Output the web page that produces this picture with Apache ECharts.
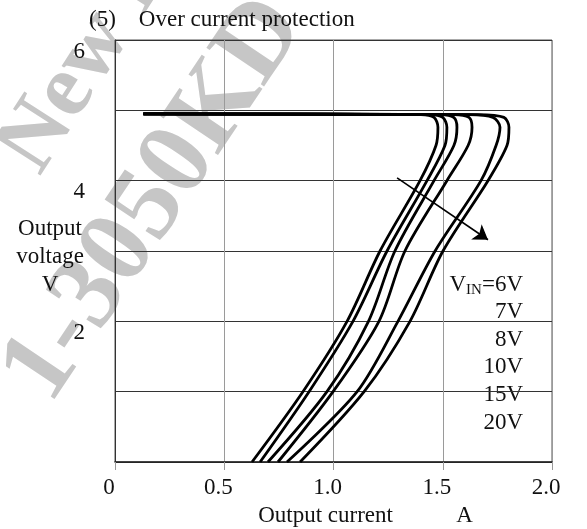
<!DOCTYPE html>
<html>
<head>
<meta charset="utf-8">
<script src="https://cdn.jsdelivr.net/npm/echarts@6/dist/echarts.min.js"></script>
<style>
  html, body { margin: 0; padding: 0; background: #fff; }
  #chart { width: 587px; height: 529px; }
</style>
</head>
<body>
<div id="chart"></div>
<script>
// output voltage levels (V) shared by every curve, top to bottom
const voltLevels = [4.95, 4.94, 4.90, 4.76, 4.5, 4, 3, 2, 1, 0];
// output current (A) of each curve at those voltage levels
const cur6V  = [0.13, 1.40, 1.46, 1.478, 1.469, 1.396, 1.213, 1.062, 0.860, 0.627];
const cur7V  = [0.13, 1.44, 1.50, 1.519, 1.510, 1.428, 1.245, 1.089, 0.888, 0.664];
const cur8V  = [0.13, 1.49, 1.55, 1.565, 1.551, 1.460, 1.281, 1.160, 0.970, 0.700];
const cur10V = [0.13, 1.55, 1.62, 1.634, 1.616, 1.519, 1.327, 1.208, 0.998, 0.746];
const cur15V = [0.13, 1.62, 1.73, 1.762, 1.744, 1.675, 1.465, 1.295, 1.108, 0.787];
const cur20V = [0.13, 1.66, 1.78, 1.803, 1.794, 1.707, 1.501, 1.350, 1.140, 0.847];
const vinLabels = ["6V", "7V", "8V", "10V", "15V", "20V"];
const yTickLabels = ["", "", "2", "", "4", "", "6"];
const arrowFrom = [1.291, 4.04];
const arrowTo = [1.707, 3.16];

const font = "Liberation Serif";
let myChart = echarts.init(document.getElementById("chart"));

let curves = [cur6V, cur7V, cur8V, cur10V, cur15V, cur20V];
let lineSeries = curves.map((cur, i) => {
  return {
    name: vinLabels[i],
    type: "line",
    smooth: 0.3,
    symbol: "none",
    z: 3,
    lineStyle: { color: "#000", width: 2.8 },
    data: cur.map((c, j) => [c, voltLevels[j]]),
  };
});

// legend text block on the right
let legendTexts = vinLabels.map((v, i) => {
  return {
    type: "text",
    right: 64,
    top: 273 + i * 27.6,
    style: {
      text: i === 0 ? "{a|V}{s|IN}{a|=" + v + "}" : v,
      font: "23px " + font,
      fill: "#111",
      rich: {
        a: { fontFamily: font, fontSize: 23, fill: "#111" },
        s: { fontFamily: font, fontSize: 15, fill: "#111", padding: [11, 0, 0, 0] },
      },
    },
  };
});

let option = {
  backgroundColor: "#fff",
  textStyle: { fontFamily: font },
  title: {
    text: "(5)    Over current protection",
    left: 84,
    top: 3,
    textStyle: { fontFamily: font, fontSize: 23, fontWeight: "normal", color: "#111" },
  },
  grid: {
    left: 115,
    right: 35,
    top: 40,
    bottom: 67,
    outerBoundsMode: "none",
    show: true,
    borderColor: "#555",
    borderWidth: 1,
  },
  xAxis: {
    type: "value",
    min: 0,
    max: 2,
    interval: 0.5,
    name: "Output current           A",
    nameLocation: "middle",
    nameGap: 42,
    nameMoveOverlap: false,
    nameTextStyle: { fontFamily: font, fontSize: 23, color: "#111", padding: [0, 0, 0, 64] },
    axisLine: { show: true, lineStyle: { color: "#222", width: 1.5 } },
    axisTick: { show: true, length: 8, lineStyle: { color: "#999" } },
    axisLabel: {
      color: "#111",
      fontFamily: font,
      fontSize: 23,
      margin: 14,
      padding: [0, 12, 0, 0],
      formatter: (v) => (v === 0 ? "0" : v.toFixed(1)),
    },
    splitLine: { show: true, lineStyle: { color: "#9a9a9a", width: 1 } },
  },
  yAxis: {
    type: "value",
    min: 0,
    max: 6,
    interval: 1,
    // empty first row only pushes the three lines a little lower
    name: "{g|}\nOutput\nvoltage\nV",
    nameLocation: "middle",
    nameRotate: 0,
    nameGap: 65,
    nameMoveOverlap: false,
    nameTextStyle: {
      fontFamily: font,
      fontSize: 23,
      color: "#111",
      align: "center",
      verticalAlign: "middle",
      lineHeight: 28,
      rich: { g: { lineHeight: 12, fontSize: 10 } },
    },
    axisLine: { show: true, lineStyle: { color: "#333", width: 1 } },
    axisTick: { show: false },
    axisLabel: {
      color: "#111",
      fontFamily: font,
      fontSize: 23,
      margin: 30,
      verticalAlign: "top",
      formatter: (v) => yTickLabels[v],
    },
    splitLine: { show: true, lineStyle: { color: "#333", width: 1 } },
  },
  graphic: {
    elements: [
      {
        type: "text",
        x: -18,
        y: 140,
        rotation: 1.0,
        z: -10,
        style: { text: "New E", font: "bold 90px " + font, fill: "#c6c6c6" },
      },
      {
        type: "text",
        x: 155,
        y: 200,
        rotation: 0.98,
        z: -10,
        style: {
          text: "1-3050KD",
          font: "bold 106px " + font,
          fill: "#c6c6c6",
          align: "center",
          verticalAlign: "middle",
        },
      },
    ].concat(legendTexts),
  },
  series: lineSeries.concat([
    {
      type: "lines",
      coordinateSystem: "cartesian2d",
      symbol: ["none", "arrow"],
      symbolSize: 14,
      z: 4,
      lineStyle: { color: "#000", width: 1.6, opacity: 1 },
      data: [{ coords: [arrowFrom, arrowTo] }],
    },
  ]),
};
myChart.setOption(option);
</script>
</body>
</html>
